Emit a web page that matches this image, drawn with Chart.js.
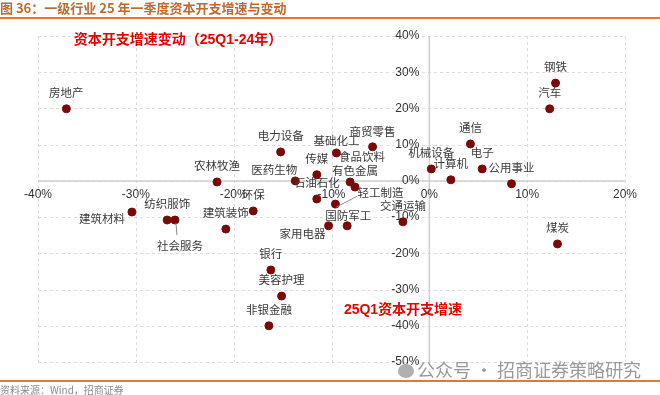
<!DOCTYPE html>
<html lang="zh">
<head>
<meta charset="UTF-8">
<title>一级行业 25 年一季度资本开支增速与变动</title>
<script src="https://cdn.jsdelivr.net/npm/chart.js@4.4.1/dist/chart.umd.min.js"></script>
<style>
    body { margin: 0; background: #fff; font-family: "Noto Sans CJK SC", sans-serif; }
    .page { position: relative; width: 660px; height: 395px; overflow: hidden; }
    .chart-box { position: absolute; left: 0; top: 0; width: 660px; height: 395px; }
    .head { position: absolute; left: 0; top: 0; font-size: 13px; font-weight: bold; color: #c0692f; line-height: 16px; white-space: nowrap; }
    .head-line { position: absolute; left: 0; top: 17px; width: 660px; height: 1.5px; background: #e0783e; }
    .foot-line { position: absolute; left: 0; top: 380px; width: 660px; height: 1.5px; background: #e0783e; }
    .foot { position: absolute; left: 0; top: 382px; font-size: 10px; color: #8a8a8a; white-space: nowrap; }
    .mark { position: absolute; left: 398px; top: 356px; font-size: 18px; color: #9a9a9a; white-space: nowrap; }
    .mark i { display: inline-block; width: 16px; height: 14px; border-radius: 50%; background: #b0b0b0; margin-right: 3px; vertical-align: -1px; }
</style>
</head>
<body>
<div class="page">
    <div class="chart-box"><canvas id="capexChart"></canvas></div>
    <div class="head">图 36：一级行业 25 年一季度资本开支增速与变动</div>
    <div class="head-line"></div>
    <div class="mark"><i></i>公众号 · 招商证券策略研究</div>
    <div class="foot-line"></div>
    <div class="foot">资料来源：Wind，招商证券</div>
</div>
<script>
// industries and their values (%)
const industries = ['房地产', '建筑材料', '纺织服饰', '社会服务', '农林牧渔', '建筑装饰', '环保', '电力设备',
    '医药生物', '传媒', '石油石化', '基础化工', '商贸零售', '食品饮料', '有色金属', '轻工制造', '国防军工',
    '家用电器', '交通运输', '银行', '美容护理', '非银金融', '钢铁', '汽车', '通信', '机械设备', '计算机',
    '电子', '公用事业', '煤炭'];
const xValues = [-37.1, -30.4, -26.8, -26.0, -21.7, -20.8, -18.0, -15.2, -13.7, -11.5, -11.5, -9.5, -5.8,
    -8.1, -7.6, -9.6, -8.4, -10.3, -2.7, -16.2, -15.1, -16.4, 12.9, 12.3, 4.2, 0.2, 2.2, 5.4, 8.4, 13.1];
const yValues = [19.9, -8.6, -10.8, -10.8, -0.3, -13.3, -8.3, 8.0, 0.0, 1.7, -5.0, 7.7, 9.4,
    -0.3, -1.7, -6.4, -12.4, -12.4, -11.3, -24.6, -31.8, -40.0, 27.0, 19.9, 10.2, 3.3, 0.3, 3.3, -0.8, -17.4];
const xTicks = [-40, -30, -20, -10, 0, 10, 20];
const yTicks = [40, 30, 20, 10, 0, -10, -20, -30, -40, -50];

// where each label sits relative to its point (px)
const labelOffsets = {
    '建筑材料': [-30, 7], '社会服务': [5, 26], '医药生物': [-21, -11], '基础化工': [0, -12],
    '商贸零售': [0, -15], '食品饮料': [12, -25], '轻工制造': [45, -11], '国防军工': [1, -10],
    '家用电器': [-26, 8]
};
const leaders = { '社会服务': [2, 15], '轻工制造': [22, -8] };

const points = industries.map((name, i) => ({ x: xValues[i], y: yValues[i] }));

const overlay = {
    id: 'overlay',
    beforeDatasetsDraw(chart) {
        const { ctx, scales: { x, y } } = chart;
        const x0 = x.getPixelForValue(0), y0 = y.getPixelForValue(0);
        ctx.save();
        // dashed grid
        ctx.strokeStyle = '#dcdcdc';
        ctx.lineWidth = 1;
        ctx.setLineDash([3, 3]);
        ctx.beginPath();
        xTicks.forEach(v => {
            const px = Math.round(x.getPixelForValue(v)) + 0.5;
            ctx.moveTo(px, y.top); ctx.lineTo(px, y.bottom);
        });
        yTicks.forEach(v => {
            const py = Math.round(y.getPixelForValue(v)) + 0.5;
            ctx.moveTo(x.left, py); ctx.lineTo(x.right, py);
        });
        ctx.stroke();
        ctx.setLineDash([]);

        // axes through zero
        ctx.strokeStyle = '#cfcfcf';
        ctx.lineWidth = 1.5;
        ctx.beginPath();
        ctx.moveTo(x.left, y0); ctx.lineTo(x.right, y0);
        ctx.moveTo(x0, y.top); ctx.lineTo(x0, y.bottom);
        ctx.stroke();

        ctx.fillStyle = '#333';
        ctx.font = '12px "Liberation Sans", Arial, sans-serif';
        ctx.textAlign = 'center';
        ctx.textBaseline = 'middle';
        xTicks.forEach(v => ctx.fillText(v + '%', x.getPixelForValue(v), y0 + 14));
        ctx.textAlign = 'right';
        yTicks.forEach(v => ctx.fillText(v + '%', x0 - 10, y.getPixelForValue(v)));
        ctx.restore();
    },
    afterDatasetsDraw(chart) {
        const { ctx } = chart;
        const meta = chart.getDatasetMeta(0);
        ctx.save();
        ctx.font = '11.5px "Noto Sans CJK SC", sans-serif';
        ctx.textAlign = 'center';
        ctx.textBaseline = 'middle';
        meta.data.forEach((pt, i) => {
            const name = industries[i];
            const off = labelOffsets[name] || [0, -16];
            if (leaders[name]) {
                ctx.strokeStyle = '#888';
                ctx.lineWidth = 1;
                ctx.beginPath();
                ctx.moveTo(pt.x + 1, pt.y + 3);
                ctx.lineTo(pt.x + leaders[name][0], pt.y + leaders[name][1]);
                ctx.stroke();
            }
            ctx.fillStyle = '#3a3a3a';
            ctx.fillText(name, pt.x + off[0], pt.y + off[1]);
        });

        ctx.font = 'bold 14px "Liberation Sans", "Noto Sans CJK SC", sans-serif';
        ctx.fillStyle = '#e60000';
        ctx.fillText('资本开支增速变动（25Q1-24年）', 178, 40);
        ctx.fillText('25Q1资本开支增速', 403, 310);
        ctx.restore();
    }
};

new Chart(document.getElementById('capexChart'), {
    type: 'scatter',
    data: {
        datasets: [{
            data: points,
            backgroundColor: '#7a0a0a',
            borderColor: '#7a0a0a',
            pointRadius: 4,
            pointHoverRadius: 4
        }]
    },
    options: {
        responsive: true,
        maintainAspectRatio: false,
        animation: false,
        layout: { padding: { left: 38, right: 35, top: 36, bottom: 33 } },
        plugins: { legend: { display: false }, tooltip: { enabled: false } },
        scales: {
            x: { display: false, min: -40, max: 20 },
            y: { display: false, min: -50, max: 40 }
        }
    },
    plugins: [overlay]
});
</script>
</body>
</html>
